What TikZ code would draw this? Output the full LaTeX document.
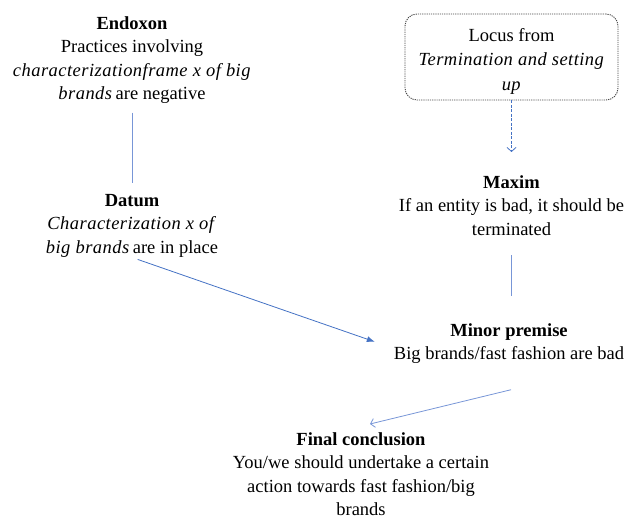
\documentclass[tikz,border=0pt]{standalone}
\usepackage{fontspec}
\setmainfont{Liberation Serif}[ItalicFeatures={LetterSpace=2.5}]
\usetikzlibrary{arrows.meta}
\definecolor{linkblue}{RGB}{68,114,196}
\definecolor{paleblue}{RGB}{120,150,215}
\definecolor{framegray}{RGB}{70,70,70}
\begin{document}
\begin{tikzpicture}[x=1pt,y=-1pt,
  every node/.style={font=\fontsize{18.5}{23.5}\selectfont, align=center, inner sep=0pt},
  block/.style={anchor=north},
  link/.style={draw=paleblue, line width=0.8pt},
  solidtip/.style={-{Latex[length=8pt,width=6pt]}, draw=linkblue},
  opentip/.style={-{Straight Barb[length=4pt,width=9pt]}},
  locusbox/.style={draw=framegray, dash pattern=on 1.2pt off 1pt, line width=0.9pt,
    rounded corners=12pt, minimum width=213pt, minimum height=86pt,
    font=\fontsize{18.5}{24.5}\selectfont}
]
\useasboundingbox (0,0) rectangle (627,516);

% argument blocks
\node[block] (endoxon) at (132,16)
  {\textbf{Endoxon}\\Practices involving\\\textit{characterizationframe x of big}\\\textit{brands}\,are negative};
\node[block] (datum) at (132,194)
  {\textbf{Datum}\\\textit{Characterization x of}\\\textit{big brands}\,are in place};
\node[locusbox] (locus) at (511.5,57)
  {\rule{0pt}{21pt}Locus from\\\textit{Termination and setting}\\\textit{up}};
\node[block] (maxim) at (511.5,175)
  {\textbf{Maxim}\\If an entity is bad, it should be\\terminated};
\node[block] (minor) at (509,323)
  {\textbf{Minor premise}\\Big brands/fast fashion are bad};
\node[block] (final) at (361,432)
  {\textbf{Final conclusion}\\You/we should undertake a certain\\action towards fast fashion/big\\brands};

% connectors
\draw[link, shorten <=9pt, shorten >=11pt] (endoxon.south) -- (datum.north);
\draw[link, solidtip, shorten <=6pt, shorten >=20pt] (datum.south) -- ([yshift=-5pt]minor.west);
\draw[link, draw=linkblue, opentip, dash pattern=on 3pt off 1.5pt] (locus.south) -- ([yshift=23pt]locus.south |- maxim.north);
\draw[link, shorten <=20pt, shorten >=27pt] (maxim.south -| locus.south) -- (locus.south |- minor.north);
\draw[link, opentip] ([xshift=2pt,yshift=-26pt]minor.south) -- ([xshift=9pt,yshift=8pt]final.north);
\end{tikzpicture}
\end{document}
